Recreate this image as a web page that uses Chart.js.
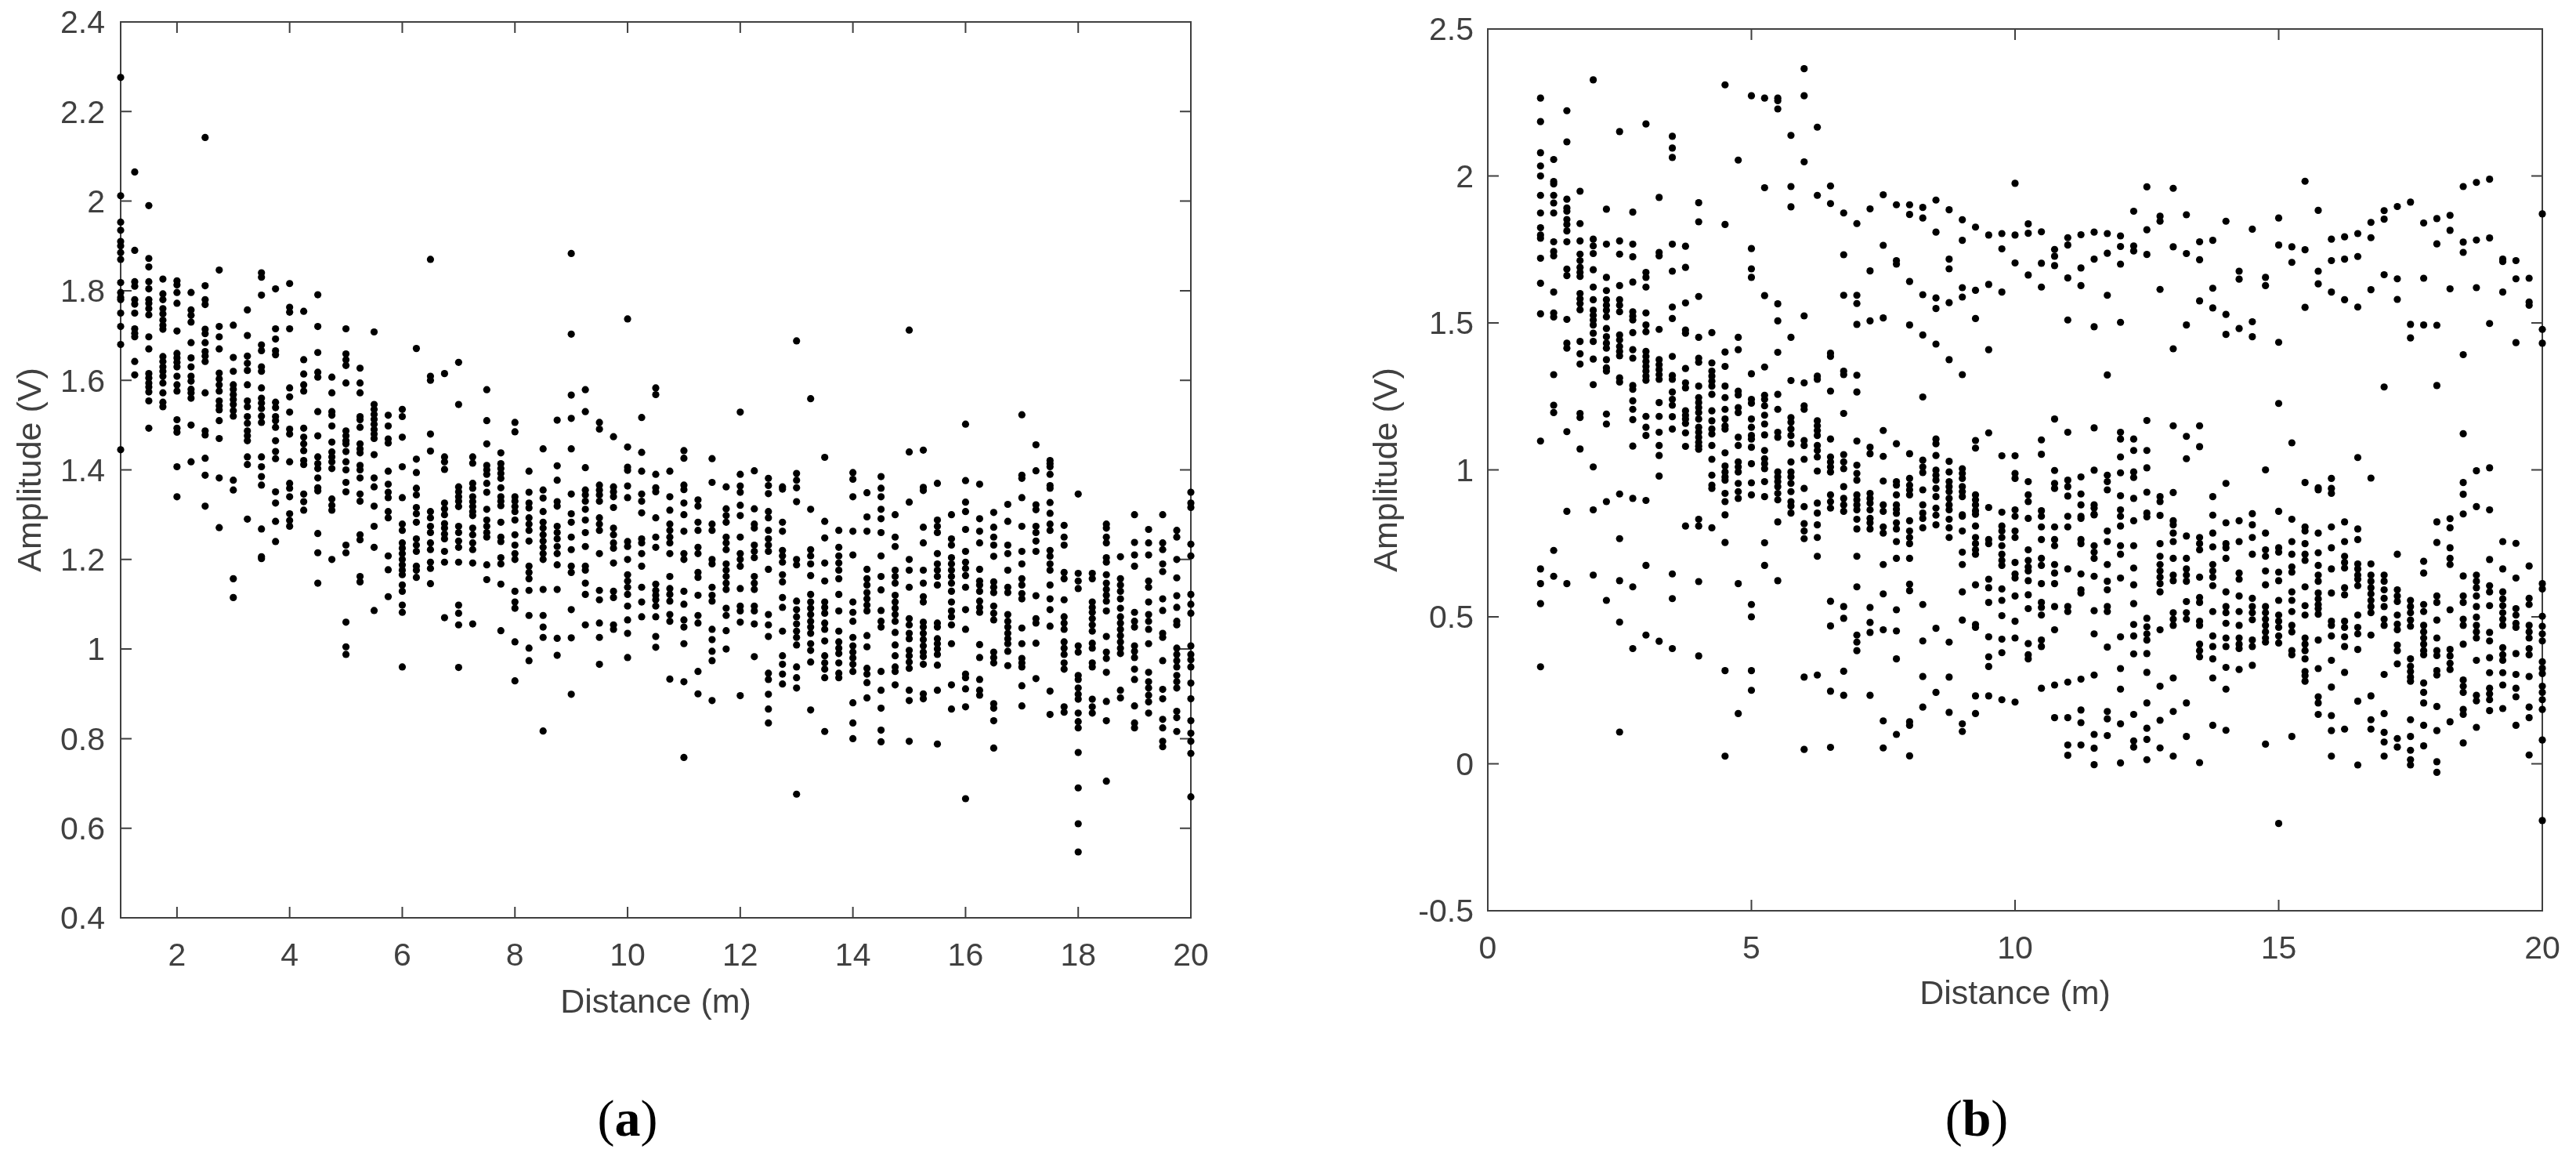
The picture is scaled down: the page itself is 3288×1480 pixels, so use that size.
<!DOCTYPE html>
<html>
<head>
<meta charset="utf-8">
<title>Amplitude vs distance</title>
<script src="https://cdn.jsdelivr.net/npm/chart.js@4/dist/chart.umd.min.js"></script>
<style>
  html,body{margin:0;padding:0;background:#fff;width:3288px;height:1480px;overflow:hidden}
  canvas{position:absolute;top:0}
  #chartA{left:0}
  #chartB{left:1720px}
  .sub{position:absolute;top:1385px;font-family:"Liberation Serif",serif;font-size:66px;line-height:84px;color:#000;transform:translateX(-50%)}
</style>
</head>
<body>
<canvas id="chartA" width="1640" height="1340"></canvas>
<canvas id="chartB" width="1568" height="1340"></canvas>
<div class="sub" style="left:801px">(<b>a</b>)</div>
<div class="sub" style="left:2523px">(<b>b</b>)</div>
<script>
// measurement distances in metres, one per column of dots (same for both panels)
const distances = [1,1.25,1.5,1.75,2,2.25,2.5,2.75,3,3.25,3.5,3.75,4,4.25,4.5,4.75,5,5.25,5.5,5.75,6,6.25,6.5,6.75,7,7.25,7.5,7.75,8,8.25,8.5,8.75,9,9.25,9.5,9.75,10,10.25,10.5,10.75,11,11.25,11.5,11.75,12,12.25,12.5,12.75,13,13.25,13.5,13.75,14,14.25,14.5,14.75,15,15.25,15.5,15.75,16,16.25,16.5,16.75,17,17.25,17.5,17.75,18,18.25,18.5,18.75,19,19.25,19.5,19.75,20];

const amplitudesA = [
[2.276,2.012,1.953,1.935,1.91,1.9,1.885,1.87,1.818,1.796,1.785,1.78,1.75,1.72,1.68,1.445],
[2.065,1.89,1.82,1.81,1.78,1.77,1.75,1.715,1.705,1.697,1.642,1.612],
[1.99,1.872,1.853,1.82,1.804,1.78,1.772,1.76,1.746,1.697,1.67,1.615,1.605,1.594,1.585,1.574,1.554,1.493],
[1.826,1.793,1.78,1.76,1.748,1.734,1.723,1.714,1.653,1.642,1.63,1.62,1.609,1.594,1.572,1.551,1.541],
[1.822,1.813,1.796,1.772,1.71,1.66,1.65,1.64,1.63,1.609,1.59,1.576,1.512,1.493,1.484,1.407,1.34],
[1.796,1.757,1.745,1.73,1.684,1.65,1.63,1.609,1.598,1.58,1.572,1.56,1.5,1.418],
[2.142,1.811,1.78,1.769,1.714,1.704,1.684,1.664,1.654,1.642,1.572,1.487,1.478,1.426,1.388,1.319],
[1.846,1.72,1.697,1.67,1.616,1.603,1.59,1.576,1.554,1.543,1.534,1.51,1.47,1.382,1.271],
[1.723,1.651,1.62,1.59,1.58,1.568,1.557,1.546,1.532,1.52,1.377,1.355,1.157,1.115],
[1.757,1.7,1.654,1.638,1.622,1.59,1.554,1.541,1.519,1.504,1.487,1.476,1.465,1.429,1.412,1.29],
[1.84,1.83,1.79,1.679,1.666,1.63,1.62,1.583,1.56,1.549,1.537,1.52,1.506,1.429,1.407,1.385,1.366,1.268,1.206,1.202],
[1.804,1.715,1.692,1.666,1.657,1.551,1.539,1.519,1.51,1.495,1.465,1.441,1.425,1.351,1.326,1.285,1.24],
[1.816,1.763,1.752,1.715,1.583,1.563,1.529,1.491,1.48,1.418,1.37,1.359,1.34,1.302,1.287,1.274],
[1.754,1.646,1.614,1.59,1.576,1.493,1.473,1.458,1.443,1.421,1.412,1.346,1.329,1.31],
[1.791,1.72,1.662,1.618,1.607,1.53,1.476,1.429,1.414,1.403,1.382,1.36,1.353,1.258,1.215,1.147],
[1.607,1.572,1.53,1.522,1.498,1.462,1.44,1.429,1.418,1.403,1.335,1.321,1.31,1.2],
[1.715,1.659,1.646,1.633,1.594,1.487,1.476,1.465,1.458,1.441,1.418,1.4,1.372,1.351,1.232,1.215,1.06,1.005,0.988],
[1.627,1.594,1.572,1.519,1.512,1.495,1.458,1.447,1.438,1.41,1.4,1.382,1.346,1.33,1.255,1.244,1.162,1.15],
[1.708,1.546,1.535,1.524,1.513,1.502,1.49,1.48,1.47,1.434,1.382,1.362,1.319,1.274,1.227,1.086],
[1.522,1.498,1.469,1.46,1.397,1.368,1.35,1.338,1.307,1.293,1.208,1.177,1.117],
[1.535,1.519,1.473,1.407,1.338,1.279,1.265,1.237,1.225,1.213,1.2,1.188,1.176,1.166,1.143,1.129,1.098,1.082,0.96],
[1.671,1.424,1.394,1.359,1.344,1.316,1.302,1.283,1.246,1.232,1.218,1.185,1.176,1.16],
[1.87,1.609,1.6,1.48,1.442,1.307,1.293,1.274,1.26,1.237,1.222,1.194,1.18,1.146],
[1.615,1.429,1.418,1.401,1.326,1.313,1.3,1.28,1.27,1.257,1.246,1.218,1.194,1.07],
[1.64,1.546,1.362,1.351,1.34,1.33,1.318,1.274,1.26,1.241,1.227,1.194,1.098,1.08,1.054,0.959],
[1.429,1.415,1.37,1.359,1.34,1.329,1.318,1.307,1.298,1.27,1.255,1.237,1.222,1.192,1.056],
[1.579,1.51,1.458,1.41,1.4,1.39,1.37,1.35,1.312,1.288,1.274,1.26,1.25,1.188,1.155],
[1.438,1.414,1.403,1.392,1.381,1.36,1.34,1.33,1.32,1.283,1.25,1.24,1.204,1.19,1.145,1.041],
[1.506,1.485,1.34,1.33,1.318,1.307,1.288,1.255,1.232,1.213,1.2,1.129,1.105,1.091,1.016,0.929],
[1.397,1.35,1.326,1.315,1.293,1.279,1.265,1.241,1.185,1.171,1.157,1.131,1.075,1.002,0.974],
[1.447,1.355,1.337,1.307,1.283,1.27,1.255,1.241,1.227,1.213,1.2,1.133,1.075,1.049,1.026,0.817],
[1.511,1.409,1.377,1.329,1.319,1.274,1.26,1.246,1.229,1.213,1.188,1.133,1.024,0.986],
[1.883,1.703,1.567,1.515,1.447,1.346,1.302,1.283,1.25,1.222,1.185,1.171,1.088,1.025,0.899],
[1.579,1.53,1.405,1.355,1.344,1.33,1.312,1.288,1.26,1.229,1.185,1.176,1.147,1.122,1.054],
[1.506,1.491,1.366,1.355,1.344,1.33,1.293,1.279,1.265,1.213,1.131,1.11,1.058,1.026,0.966],
[1.474,1.362,1.351,1.34,1.316,1.27,1.255,1.237,1.225,1.192,1.129,1.115,1.054,1.044],
[1.737,1.451,1.406,1.399,1.364,1.338,1.24,1.229,1.2,1.166,1.152,1.138,1.122,1.096,1.065,1.035,0.981],
[1.517,1.439,1.397,1.346,1.33,1.304,1.246,1.237,1.213,1.185,1.138,1.105,1.072],
[1.583,1.568,1.39,1.36,1.351,1.293,1.25,1.227,1.145,1.131,1.12,1.11,1.096,1.072,1.028,1.004],
[1.397,1.34,1.31,1.279,1.265,1.25,1.237,1.213,1.162,1.135,1.122,1.107,1.077,1.062,0.933],
[1.443,1.426,1.366,1.356,1.326,1.3,1.263,1.213,1.2,1.129,1.1,1.065,1.049,1.012,0.927,0.758],
[1.333,1.319,1.283,1.265,1.227,1.213,1.171,1.16,1.12,1.075,1.058,0.95,0.9],
[1.425,1.372,1.279,1.265,1.2,1.19,1.138,1.12,1.107,1.044,1.021,0.995,0.974,0.885],
[1.362,1.313,1.298,1.283,1.25,1.237,1.222,1.19,1.176,1.162,1.147,1.133,1.091,1.075,1.041,1.0],
[1.529,1.39,1.364,1.35,1.321,1.298,1.25,1.213,1.2,1.185,1.135,1.096,1.085,1.06,0.896],
[1.398,1.313,1.279,1.27,1.232,1.218,1.204,1.162,1.147,1.133,1.096,1.085,1.056,0.983],
[1.381,1.365,1.347,1.307,1.293,1.265,1.246,1.232,1.218,1.178,1.077,1.054,1.028,0.946,0.932,0.899,0.866,0.835],
[1.362,1.357,1.283,1.263,1.22,1.208,1.194,1.166,1.15,1.115,1.093,1.04,0.985,0.966,0.944,0.922],
[1.688,1.392,1.377,1.36,1.329,1.2,1.188,1.107,1.088,1.072,1.056,1.04,1.026,1.009,0.96,0.936,0.913,0.676],
[1.559,1.312,1.222,1.208,1.19,1.164,1.122,1.105,1.091,1.077,1.062,1.049,1.035,1.012,0.997,0.971,0.864],
[1.428,1.285,1.248,1.192,1.152,1.105,1.093,1.08,1.058,1.044,1.018,0.985,0.969,0.955,0.936,0.816],
[1.265,1.227,1.208,1.192,1.176,1.157,1.122,1.085,1.04,1.016,1.002,0.99,0.969,0.946,0.936],
[1.394,1.379,1.34,1.263,1.21,1.105,1.082,1.062,1.026,1.007,0.993,0.98,0.966,0.95,0.88,0.835,0.8],
[1.349,1.295,1.263,1.178,1.157,1.143,1.126,1.112,1.098,1.085,1.03,1.005,0.957,0.944,0.925,0.891],
[1.385,1.359,1.34,1.312,1.291,1.26,1.208,1.162,1.132,1.086,1.062,1.049,0.95,0.908,0.868,0.819,0.793],
[1.3,1.25,1.229,1.176,1.162,1.147,1.12,1.105,1.091,1.077,1.062,1.037,1.009,0.985,0.96,0.95,0.92],
[1.712,1.44,1.328,1.2,1.176,1.138,1.068,1.054,1.035,1.023,0.997,0.985,0.971,0.957,0.908,0.885,0.794],
[1.444,1.361,1.354,1.272,1.237,1.176,1.147,1.117,1.105,1.06,1.049,1.035,1.021,1.007,0.993,0.983,0.966,0.9,0.889],
[1.37,1.288,1.274,1.26,1.213,1.19,1.176,1.162,1.143,1.058,1.049,1.023,1.012,1.0,0.988,0.964,0.908,0.788],
[1.3,1.246,1.232,1.204,1.19,1.176,1.162,1.147,1.129,1.105,1.085,1.072,1.054,1.012,0.92,0.866],
[1.502,1.376,1.328,1.307,1.267,1.218,1.194,1.18,1.164,1.138,1.088,1.044,0.944,0.936,0.911,0.871,0.666],
[1.368,1.291,1.263,1.237,1.178,1.152,1.143,1.129,1.107,1.093,1.082,1.01,0.981,0.932,0.908,0.897],
[1.305,1.272,1.25,1.232,1.207,1.15,1.138,1.126,1.096,1.08,1.065,0.993,0.981,0.969,0.878,0.868,0.84,0.779],
[1.323,1.285,1.232,1.213,1.176,1.138,1.126,1.077,1.062,1.049,1.035,1.023,1.012,0.995,0.963],
[1.523,1.388,1.381,1.338,1.274,1.218,1.19,1.157,1.143,1.124,1.112,1.047,1.012,0.979,0.969,0.96,0.918,0.873],
[1.456,1.398,1.322,1.311,1.274,1.26,1.241,1.218,1.119,1.068,1.058,1.013,0.934],
[1.421,1.414,1.407,1.39,1.365,1.359,1.327,1.303,1.279,1.265,1.22,1.207,1.19,1.176,1.143,1.112,1.088,1.051,0.906,0.854],
[1.276,1.25,1.232,1.171,1.157,1.11,1.072,1.058,1.044,1.016,1.002,0.988,0.969,0.955,0.871,0.859],
[1.346,1.169,1.152,1.135,1.007,0.993,0.941,0.932,0.913,0.899,0.888,0.857,0.838,0.824,0.769,0.69,0.61,0.547],
[1.169,1.157,1.105,1.093,1.082,1.068,1.054,1.04,1.013,1.002,0.969,0.96,0.888,0.871,0.857],
[1.279,1.27,1.25,1.237,1.204,1.194,1.166,1.147,1.133,1.12,1.107,1.085,1.028,0.993,0.979,0.948,0.883,0.84,0.705],
[1.206,1.157,1.143,1.129,1.112,1.091,1.072,1.058,1.044,1.03,1.016,1.002,0.99,0.908,0.891],
[1.3,1.238,1.21,1.185,1.082,1.062,1.049,1.007,0.995,0.981,0.955,0.932,0.873,0.835,0.824],
[1.267,1.237,1.21,1.152,1.138,1.105,1.077,1.062,1.044,1.012,0.948,0.927,0.913,0.897,0.882,0.857],
[1.3,1.237,1.222,1.19,1.173,1.112,1.086,1.035,1.026,0.974,0.91,0.889,0.843,0.824,0.794,0.782],
[1.265,1.25,1.2,1.159,1.119,1.093,1.062,1.054,1.002,0.988,0.974,0.96,0.941,0.927,0.913,0.861,0.847,0.816],
[1.35,1.326,1.316,1.234,1.208,1.122,1.1,1.08,1.007,0.988,0.976,0.96,0.924,0.889,0.84,0.812,0.794,0.767,0.67]
];

const amplitudesB = [
[2.265,2.185,2.079,2.034,2.0,1.934,1.874,1.824,1.799,1.788,1.72,1.635,1.531,1.098,0.663,0.613,0.545,0.33],
[2.056,1.981,1.973,1.934,1.908,1.874,1.776,1.743,1.728,1.605,1.534,1.52,1.324,1.22,1.195,0.726,0.638],
[2.222,2.116,1.921,1.891,1.88,1.852,1.835,1.813,1.776,1.683,1.661,1.512,1.431,1.414,1.13,0.859,0.613],
[1.948,1.838,1.779,1.734,1.712,1.689,1.672,1.658,1.6,1.582,1.566,1.545,1.437,1.395,1.36,1.192,1.178,1.071],
[2.327,1.785,1.762,1.736,1.681,1.622,1.579,1.543,1.526,1.51,1.493,1.465,1.437,1.377,1.29,1.01,0.864,0.642],
[1.887,1.768,1.655,1.61,1.579,1.56,1.543,1.521,1.481,1.453,1.431,1.414,1.375,1.347,1.336,1.19,1.156,0.892,0.556],
[2.151,1.779,1.734,1.627,1.579,1.56,1.538,1.459,1.442,1.42,1.403,1.388,1.313,1.299,0.918,0.766,0.623,0.482,0.108],
[1.877,1.768,1.725,1.639,1.538,1.523,1.51,1.467,1.409,1.38,1.287,1.274,1.235,1.206,1.171,1.081,0.903,0.602,0.392],
[2.177,1.672,1.655,1.622,1.534,1.493,1.47,1.403,1.386,1.369,1.352,1.336,1.319,1.305,1.182,1.145,1.117,0.896,0.675,0.438],
[1.927,1.74,1.728,1.478,1.375,1.358,1.341,1.324,1.308,1.229,1.182,1.128,1.083,1.049,0.979,0.417],
[2.135,2.095,2.063,1.768,1.676,1.554,1.515,1.386,1.321,1.308,1.265,1.24,1.22,1.181,1.139,0.646,0.562,0.392],
[1.761,1.689,1.568,1.476,1.465,1.345,1.296,1.279,1.201,1.186,1.173,1.158,1.126,1.08,0.809],
[1.909,1.844,1.59,1.451,1.38,1.366,1.285,1.246,1.229,1.212,1.195,1.173,1.145,1.128,1.111,1.094,1.081,1.07,0.832,0.809,0.62,0.367],
[1.467,1.364,1.336,1.319,1.302,1.285,1.257,1.201,1.167,1.139,1.122,1.083,1.036,0.982,0.948,0.937,0.803],
[2.31,1.835,1.401,1.352,1.285,1.246,1.206,1.173,1.15,1.139,1.058,1.013,0.993,0.976,0.965,0.92,0.892,0.847,0.753,0.317,0.026],
[2.054,1.451,1.409,1.268,1.255,1.212,1.195,1.111,1.083,1.027,1.01,0.993,0.954,0.926,0.903,0.613,0.171],
[2.273,1.753,1.684,1.655,1.327,1.24,1.227,1.173,1.145,1.117,1.105,1.077,1.021,0.956,0.915,0.542,0.5,0.317,0.25],
[2.265,1.96,1.593,1.35,1.254,1.24,1.218,1.186,1.156,1.119,1.066,1.038,1.021,1.004,0.96,0.909,0.752,0.675],
[2.265,2.256,2.228,1.565,1.507,1.4,1.257,1.206,1.128,1.111,0.993,0.976,0.96,0.943,0.92,0.898,0.823,0.623],
[2.138,1.964,1.895,1.451,1.304,1.178,1.162,1.139,1.117,1.089,1.027,0.993,0.976,0.954,0.926,0.892,0.853,0.877],
[2.365,2.273,2.048,1.524,1.296,1.218,1.206,1.1,1.083,1.036,0.937,0.875,0.817,0.792,0.766,0.295,0.049],
[2.166,1.934,1.319,1.308,1.167,1.15,1.134,1.117,1.083,1.066,1.044,0.996,0.887,0.853,0.813,0.77,0.706,0.302],
[1.966,1.906,1.397,1.386,1.268,1.105,1.044,1.027,1.01,0.993,0.915,0.892,0.87,0.553,0.469,0.247,0.056],
[1.874,1.732,1.594,1.336,1.324,1.192,1.052,1.027,1.004,0.943,0.903,0.881,0.859,0.535,0.495,0.315,0.233],
[1.838,1.594,1.566,1.495,1.322,1.265,1.098,1.016,0.988,0.965,0.915,0.898,0.881,0.864,0.832,0.799,0.706,0.602,0.438,0.414,0.385],
[1.888,1.677,1.507,1.077,1.055,0.92,0.903,0.887,0.864,0.835,0.82,0.799,0.532,0.481,0.447,0.233],
[1.936,1.764,1.517,1.134,1.046,0.962,0.881,0.859,0.806,0.785,0.678,0.578,0.456,0.146,0.054],
[1.902,1.712,1.7,1.089,0.96,0.948,0.915,0.881,0.866,0.852,0.82,0.799,0.756,0.699,0.524,0.452,0.357,0.1],
[1.902,1.869,1.641,1.493,1.055,0.971,0.948,0.932,0.915,0.827,0.792,0.77,0.749,0.699,0.611,0.589,0.143,0.131,0.027],
[1.893,1.857,1.596,1.459,1.248,1.033,1.01,0.991,0.932,0.881,0.853,0.835,0.803,0.542,0.418,0.297,0.193],
[1.918,1.809,1.585,1.549,1.428,1.105,1.089,1.049,0.999,0.982,0.965,0.937,0.909,0.87,0.846,0.813,0.461,0.243],
[1.885,1.717,1.684,1.569,1.375,1.029,0.993,0.96,0.943,0.926,0.903,0.881,0.864,0.832,0.803,0.77,0.414,0.295,0.175],
[1.851,1.781,1.62,1.588,1.324,1.004,0.988,0.971,0.943,0.926,0.909,0.847,0.842,0.792,0.72,0.678,0.585,0.489,0.136,0.11],
[1.826,1.611,1.515,1.1,1.074,0.915,0.898,0.881,0.861,0.849,0.809,0.77,0.749,0.728,0.713,0.609,0.474,0.464,0.231,0.171],
[1.799,1.631,1.409,1.126,0.872,0.763,0.749,0.628,0.599,0.549,0.432,0.364,0.331,0.231],
[1.804,1.752,1.605,1.048,0.856,0.809,0.792,0.77,0.742,0.713,0.692,0.675,0.595,0.556,0.504,0.424,0.378,0.218],
[1.975,1.799,1.704,1.048,0.988,0.971,0.864,0.842,0.792,0.77,0.685,0.646,0.632,0.571,0.485,0.428,0.21],
[1.837,1.805,1.663,0.96,0.915,0.892,0.835,0.728,0.692,0.67,0.656,0.623,0.575,0.528,0.409,0.371,0.357],
[1.81,1.703,1.622,1.102,1.053,0.861,0.842,0.806,0.763,0.699,0.675,0.613,0.549,0.532,0.506,0.421,0.399,0.257],
[1.75,1.727,1.695,1.173,0.998,0.954,0.937,0.806,0.763,0.742,0.678,0.649,0.613,0.535,0.456,0.268,0.157],
[1.79,1.765,1.653,1.51,1.128,0.965,0.943,0.911,0.842,0.806,0.663,0.535,0.518,0.278,0.157,0.064,0.029],
[1.8,1.687,1.627,0.976,0.918,0.881,0.842,0.835,0.763,0.749,0.646,0.592,0.581,0.288,0.183,0.14,0.064],
[1.809,1.717,1.487,1.143,0.999,0.881,0.847,0.87,0.849,0.742,0.72,0.699,0.638,0.521,0.442,0.302,0.1,0.053,-0.003],
[1.804,1.737,1.594,1.323,0.982,0.96,0.932,0.792,0.756,0.678,0.621,0.592,0.535,0.518,0.397,0.178,0.153,0.096],
[1.796,1.76,1.7,1.502,1.128,1.105,1.044,0.99,0.912,0.864,0.842,0.809,0.742,0.713,0.632,0.432,0.324,0.254,0.136,0.003],
[1.88,1.762,1.745,1.105,1.066,0.993,0.974,0.903,0.827,0.742,0.666,0.609,0.545,0.474,0.435,0.374,0.168,0.078,0.057],
[1.963,1.817,1.733,1.168,1.066,1.007,0.924,0.853,0.84,0.495,0.466,0.442,0.421,0.375,0.311,0.207,0.121,0.083,0.014],
[1.863,1.846,1.614,0.909,0.892,0.845,0.749,0.706,0.678,0.656,0.635,0.613,0.585,0.456,0.264,0.148,0.054],
[1.958,1.759,1.412,1.15,0.923,0.827,0.813,0.785,0.756,0.699,0.642,0.623,0.514,0.492,0.471,0.292,0.178,0.026],
[1.868,1.736,1.493,1.114,1.038,0.775,0.699,0.663,0.642,0.621,0.552,0.514,0.492,0.207,0.093],
[1.776,1.715,1.575,1.15,1.079,0.77,0.749,0.728,0.635,0.566,0.549,0.485,0.471,0.407,0.385,0.364,0.004],
[1.781,1.618,1.551,0.909,0.846,0.785,0.738,0.678,0.656,0.635,0.606,0.518,0.435,0.399,0.357,0.292,0.131],
[1.846,1.529,1.461,0.954,0.82,0.749,0.735,0.699,0.585,0.535,0.514,0.478,0.428,0.399,0.328,0.254,0.114],
[1.676,1.649,1.481,0.827,0.756,0.649,0.628,0.571,0.518,0.471,0.428,0.407,0.392,0.321],
[1.819,1.504,1.453,0.851,0.813,0.77,0.713,0.563,0.535,0.514,0.49,0.421,0.399,0.335],
[1.655,1.627,1.0,0.785,0.728,0.706,0.656,0.609,0.535,0.514,0.492,0.471,0.449,0.428,0.414,0.067],
[1.857,1.765,1.434,1.226,0.859,0.735,0.72,0.652,0.623,0.556,0.506,0.485,0.464,0.435,0.411,-0.203],
[1.759,1.706,1.092,0.832,0.756,0.713,0.67,0.652,0.585,0.556,0.518,0.471,0.449,0.385,0.371,0.093],
[1.982,1.749,1.553,0.957,0.806,0.792,0.749,0.713,0.692,0.602,0.538,0.506,0.428,0.407,0.385,0.357,0.314,0.3,0.281],
[1.883,1.676,1.633,0.939,0.932,0.785,0.718,0.675,0.642,0.621,0.581,0.561,0.542,0.528,0.509,0.421,0.324,0.228,0.207,0.168],
[1.785,1.712,1.605,0.971,0.937,0.92,0.806,0.735,0.663,0.581,0.485,0.471,0.435,0.352,0.261,0.164,0.113,0.026],
[1.793,1.717,1.579,0.823,0.756,0.706,0.685,0.666,0.599,0.575,0.485,0.464,0.432,0.399,0.311,0.118],
[1.804,1.726,1.554,1.042,0.799,0.763,0.68,0.663,0.642,0.628,0.606,0.506,0.464,0.442,0.389,0.213,-0.004],
[1.842,1.79,1.613,0.972,0.68,0.642,0.621,0.599,0.578,0.556,0.535,0.514,0.438,0.231,0.15,0.118],
[1.882,1.853,1.664,1.282,0.642,0.621,0.592,0.563,0.535,0.492,0.471,0.304,0.171,0.107,0.074,0.026],
[1.896,1.65,1.58,0.713,0.592,0.571,0.552,0.506,0.475,0.456,0.404,0.385,0.34,0.086,0.057],
[1.911,1.495,1.449,0.556,0.535,0.514,0.489,0.468,0.357,0.332,0.314,0.295,0.281,0.15,0.093,0.046,0.014,-0.004],
[1.84,1.652,1.493,0.689,0.649,0.542,0.518,0.471,0.449,0.428,0.407,0.385,0.371,0.275,0.243,0.207,0.131,0.061],
[1.855,1.769,1.492,1.287,0.823,0.753,0.571,0.549,0.489,0.428,0.385,0.368,0.317,0.302,0.195,0.113,0.007,-0.029],
[1.866,1.815,1.616,0.834,0.803,0.735,0.699,0.678,0.524,0.389,0.367,0.342,0.321,0.143],
[1.964,1.775,1.74,1.392,1.123,0.957,0.917,0.85,0.639,0.571,0.549,0.492,0.471,0.407,0.285,0.264,0.243,0.185,0.168,0.071],
[1.978,1.782,1.62,0.997,0.875,0.642,0.621,0.599,0.571,0.535,0.499,0.471,0.449,0.428,0.352,0.233,0.214,0.124],
[1.989,1.789,1.498,1.007,0.864,0.695,0.606,0.585,0.538,0.447,0.418,0.361,0.31,0.257,0.238,0.218,0.181],
[1.717,1.709,1.605,0.756,0.663,0.585,0.561,0.538,0.514,0.492,0.471,0.395,0.371,0.352,0.31,0.268,0.188],
[1.712,1.65,1.433,0.75,0.632,0.528,0.506,0.478,0.464,0.375,0.304,0.257,0.228,0.131],
[1.652,1.571,1.56,0.673,0.563,0.542,0.471,0.449,0.428,0.392,0.371,0.297,0.193,0.157,0.03],
[1.871,1.478,1.431,0.613,0.595,0.502,0.468,0.442,0.418,0.347,0.325,0.307,0.264,0.243,0.218,0.185,0.081,-0.193]
];

// tick labels
const xTicksA = [2,4,6,8,10,12,14,16,18,20];
const yTicksA = [0.4,0.6,0.8,1,1.2,1.4,1.6,1.8,2,2.2,2.4];
const xTicksB = [0,5,10,15,20];
const yTicksB = [-0.5,0,0.5,1,1.5,2,2.5];

const INK = "#404040";
const FONT = '"Liberation Sans", Arial, sans-serif';

// matlab style box with inward ticks on all four sides
const boxTicks = {
  id: "boxTicks",
  beforeDatasetsDraw(chart){
    const {ctx, chartArea:a, scales:{x,y}} = chart;
    const len = 14;
    ctx.save();
    ctx.strokeStyle = INK;
    ctx.lineWidth = 2;
    ctx.strokeRect(a.left, a.top, a.right-a.left, a.bottom-a.top);
    ctx.beginPath();
    x.ticks.forEach(t => {
      const px = x.getPixelForValue(t.value);
      ctx.moveTo(px, a.bottom); ctx.lineTo(px, a.bottom-len);
      ctx.moveTo(px, a.top); ctx.lineTo(px, a.top+len);
    });
    y.ticks.forEach(t => {
      const py = y.getPixelForValue(t.value);
      ctx.moveTo(a.left, py); ctx.lineTo(a.left+len, py);
      ctx.moveTo(a.right, py); ctx.lineTo(a.right-len, py);
    });
    ctx.stroke();
    ctx.restore();
  }
};

function toPoints(columns){
  return columns.flatMap((col,i) => col.map(v => ({x:distances[i], y:v})));
}

function makeChart(id, cfg){
  new Chart(document.getElementById(id), {
    type: "scatter",
    data: {datasets:[{
      data: toPoints(cfg.columns),
      backgroundColor: "#000",
      borderWidth: 0,
      pointRadius: 4.6,
      clip: false
    }]},
    plugins: [boxTicks],
    options: {
      responsive: false,
      animation: false,
      layout: {padding: {top: cfg.top, right: cfg.right, left: 0, bottom: 0}},
      plugins: {legend:{display:false}, tooltip:{enabled:false}},
      scales: {
        x: {
          type: "linear",
          min: cfg.xMin, max: 20,
          grid: {display:false, drawTicks:false},
          border: {display:false},
          afterBuildTicks: s => { s.ticks = cfg.xTicks.map(v => ({value:v})); },
          // keep the plot box where it is, labels may hang over it
          afterFit: s => { s.height = cfg.xHeight; s.paddingLeft = 0; s.paddingRight = 0; },
          ticks: {color:INK, font:{family:FONT, size:41}, padding:cfg.xPad, maxRotation:0, autoSkip:false, callback:v => String(v)},
          title: {display:true, text:"Distance (m)", color:INK, font:{family:FONT, size:43}, padding:{top:0, bottom:cfg.xTitlePad}}
        },
        y: {
          type: "linear",
          min: cfg.yTicks[0], max: cfg.yTicks[cfg.yTicks.length-1],
          grid: {display:false, drawTicks:false},
          border: {display:false},
          afterBuildTicks: s => { s.ticks = cfg.yTicks.map(v => ({value:v})); },
          afterFit: s => { s.width = cfg.yWidth; s.paddingTop = 0; s.paddingBottom = 0; },
          ticks: {color:INK, font:{family:FONT, size:41}, padding:cfg.yPad, autoSkip:false, labelOffset:3, callback:v => String(v)},
          title: {display:true, text:"Amplitude (V)", color:INK, font:{family:FONT, size:43}, padding:{top:cfg.yTitlePad, bottom:0}}
        }
      }
    }
  });
}

makeChart("chartA", {
  columns: amplitudesA, xTicks: xTicksA, yTicks: yTicksA, xMin: 1,
  top: 28, right: 120, xHeight: 169, yWidth: 154,
  xPad: 25, yPad: 20, xTitlePad: 34, yTitlePad: 14
});
makeChart("chartB", {
  columns: amplitudesB, xTicks: xTicksB, yTicks: yTicksB, xMin: 0,
  top: 37, right: 43, xHeight: 178, yWidth: 179,
  xPad: 25, yPad: 18, xTitlePad: 45, yTitlePad: 25
});
</script>
</body>
</html>
